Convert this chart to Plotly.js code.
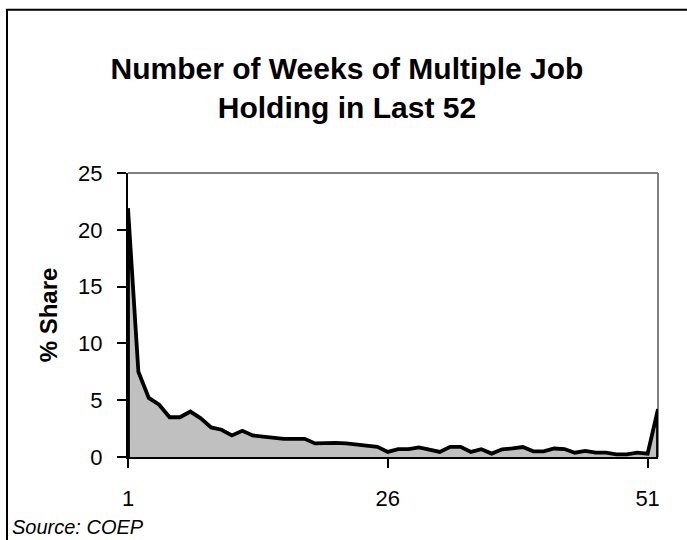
<!DOCTYPE html>
<html>
<head>
<meta charset="utf-8">
<script src="https://cdn.plot.ly/plotly-3.0.1.min.js"></script>
<style>
  html, body { margin: 0; padding: 0; background: #ffffff; }
  #chart { width: 687px; height: 540px; }
</style>
</head>
<body>
<div id="chart"></div>
<script>
// Data
const weeks = [];
for (let w = 1; w <= 52; w++) weeks.push(w);
const share = [
  21.9, 7.5, 5.2, 4.6, 3.5, 3.5, 4.0, 3.4, 2.6, 2.4,
  1.9, 2.3, 1.9, 1.8, 1.7, 1.6, 1.6, 1.6, 1.2, 1.25,
  1.25, 1.2, 1.1, 1.05, 0.9, 0.45, 0.7, 0.7, 0.85, 0.65,
  0.45, 0.9, 0.9, 0.45, 0.68, 0.3, 0.68, 0.75, 0.88, 0.5,
  0.5, 0.75, 0.7, 0.38, 0.53, 0.38, 0.38, 0.23, 0.23, 0.38,
  0.29, 4.2
];
const xTickVals = [1, 26, 51];
const xTickText = ['1', '26', '51'];
const titleText = 'Number of Weeks of Multiple Job<br>Holding in Last 52';
const yTitle = '% Share';
const sourceText = 'Source: COEP';

// closed area polygon (Excel area chart outline)
const polyX = [weeks[0]].concat(weeks, [weeks[weeks.length - 1]]);
const polyY = [0].concat(share, [0]);

const font = 'Liberation Sans, Arial, sans-serif';

const trace = {
  x: polyX,
  y: polyY,
  type: 'scatter',
  mode: 'lines',
  fill: 'toself',
  fillcolor: '#C0C0C0',
  line: { color: '#000000', width: 3.8 },
  hoverinfo: 'skip'
};

const layout = {
  width: 687,
  height: 540,
  margin: { l: 128, r: 29, t: 173, b: 83 },
  paper_bgcolor: '#ffffff',
  plot_bgcolor: '#ffffff',
  showlegend: false,
  font: { family: font, color: '#000000' },
  title: {
    text: titleText,
    font: { family: font, size: 30, color: '#000000', weight: 'bold' },
    x: 0.505, xanchor: 'center',
    y: 0.853, yanchor: 'middle',
    xref: 'container', yref: 'container'
  },
  xaxis: {
    range: [1, 52],
    tickvals: xTickVals,
    ticktext: xTickText,
    ticks: 'outside', ticklen: 9, tickwidth: 2, tickcolor: '#000000',
    showline: true, linecolor: '#000000', linewidth: 2,
    showgrid: false, zeroline: false,
    tickfont: { family: font, size: 22, color: '#000000' },
    ticklabelstandoff: 12,
    fixedrange: true
  },
  yaxis: {
    range: [0, 25],
    dtick: 5, tick0: 0,
    ticks: 'outside', ticklen: 9, tickwidth: 2, tickcolor: '#000000',
    showline: true, linecolor: '#000000', linewidth: 2,
    showgrid: false, zeroline: false,
    tickfont: { family: font, size: 22, color: '#000000' },
    ticklabelstandoff: 10,
    title: { text: yTitle, font: { family: font, size: 24, color: '#000000', weight: 'bold' }, standoff: 14 },
    automargin: false,
    fixedrange: true
  },
  shapes: [
    // gray top and right plot-area border
    { type: 'line', xref: 'paper', yref: 'paper', x0: 0, x1: 1, y0: 1, y1: 1,
      line: { color: '#808080', width: 2 }, layer: 'below' },
    { type: 'line', xref: 'paper', yref: 'paper', x0: 1, x1: 1, y0: 0, y1: 1,
      line: { color: '#808080', width: 2 }, layer: 'below' },
    // outer chart border (cropped at right and bottom)
    { type: 'rect', xref: 'paper', yref: 'paper', x0: -0.2283, x1: 1.2, y0: -0.4, y1: 1.5745,
      line: { color: '#000000', width: 2 }, fillcolor: 'rgba(0,0,0,0)', layer: 'below' }
  ],
  annotations: [
    { text: sourceText, xref: 'paper', yref: 'paper', x: -0.2226, y: -0.248,
      xanchor: 'left', yanchor: 'middle', showarrow: false,
      font: { family: font, size: 20, color: '#000000', style: 'italic' } }
  ]
};

Plotly.newPlot('chart', [trace], layout, { staticPlot: true, displayModeBar: false });
</script>
</body>
</html>
